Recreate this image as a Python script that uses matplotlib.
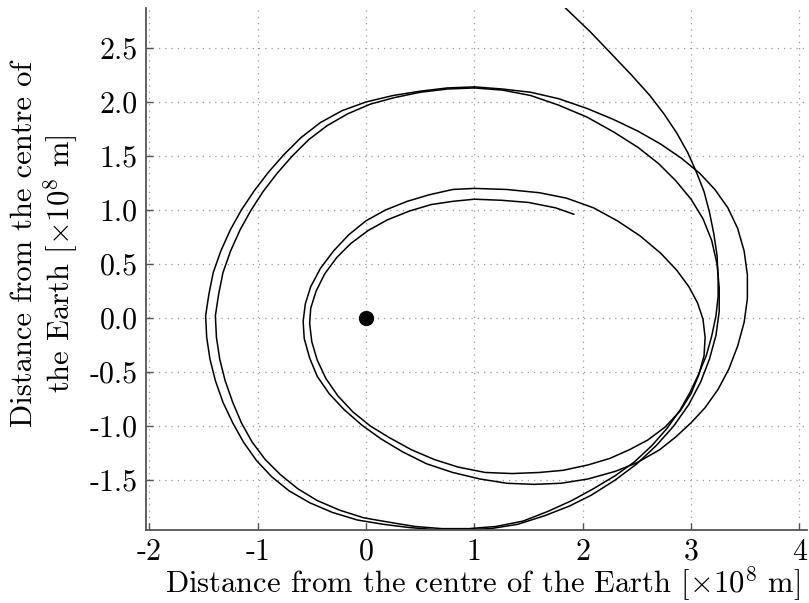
#!/usr/bin/env python3
from __future__ import annotations

import matplotlib

matplotlib.use("Agg")
import matplotlib.pyplot as plt
from matplotlib.ticker import FixedLocator, FormatStrFormatter


# trajectory, in units of 1e8 m (counter-clockwise)
first_orbit_x = [1.92, 1.75, 1.50, 1.25, 1.00, 0.80, 0.60, 0.40, 0.20, 0.02, -0.14, -0.27, -0.38, -0.46,
                 -0.51, -0.52, -0.50, -0.45, -0.37, -0.26, -0.12, 0.04, 0.22, 0.42, 0.63, 0.85, 1.10,
                 1.35, 1.60, 1.82, 2.05, 2.25, 2.43, 2.60, 2.76, 2.90, 3.00, 3.07, 3.12, 3.13, 3.11,
                 3.06, 2.98, 2.87, 2.72, 2.53, 2.32, 2.10, 1.85, 1.60, 1.30, 1.00]
first_orbit_y = [0.96, 1.02, 1.07, 1.09, 1.10, 1.08, 1.05, 0.99, 0.91, 0.81, 0.69, 0.56, 0.41, 0.25,
                 0.09, -0.05, -0.22, -0.39, -0.56, -0.72, -0.87, -1.00, -1.11, -1.22, -1.31, -1.38, -1.43,
                 -1.44, -1.43, -1.41, -1.36, -1.30, -1.22, -1.13, -1.01, -0.86, -0.70, -0.53, -0.35, -0.18, -0.01,
                 0.14, 0.29, 0.44, 0.60, 0.76, 0.90, 1.02, 1.11, 1.16, 1.19, 1.20]

second_orbit_x = [1.00, 0.80, 0.58, 0.38, 0.18, 0.00, -0.16, -0.30, -0.42, -0.51, -0.56, -0.58, -0.57,
                  -0.52, -0.45, -0.34, -0.20, -0.04, 0.14, 0.34, 0.56, 0.80, 1.05, 1.30, 1.55, 1.80,
                  2.05, 2.30, 2.50, 2.71, 2.86, 3.00, 3.13, 3.25, 3.35, 3.43, 3.49, 3.52, 3.52, 3.49,
                  3.43, 3.34, 3.22, 3.08, 2.91, 2.72, 2.51, 2.28, 2.04, 1.78, 1.52, 1.26, 1.00]
second_orbit_y = [1.20, 1.19, 1.14, 1.08, 1.00, 0.90, 0.77, 0.62, 0.46, 0.29, 0.13, -0.03, -0.19,
                  -0.37, -0.54, -0.70, -0.85, -0.99, -1.12, -1.24, -1.35, -1.43, -1.49, -1.53, -1.54, -1.53,
                  -1.49, -1.42, -1.34, -1.22, -1.10, -0.97, -0.83, -0.66, -0.47, -0.26, -0.04, 0.18, 0.40, 0.62,
                  0.83, 1.02, 1.19, 1.34, 1.48, 1.61, 1.73, 1.84, 1.94, 2.03, 2.09, 2.12, 2.14]

third_orbit_x = [1.00, 0.75, 0.50, 0.25, 0.00, -0.22, -0.42, -0.60, -0.76, -0.90, -1.03, -1.15, -1.25,
                 -1.34, -1.41, -1.45, -1.48, -1.47, -1.44, -1.39, -1.32, -1.23, -1.13, -1.01, -0.87,
                 -0.71, -0.52, -0.31, -0.08, 0.16, 0.40, 0.65, 0.90, 1.15, 1.40, 1.65, 1.88, 2.08,
                 2.30, 2.50, 2.68, 2.84, 2.98, 3.09, 3.17, 3.23, 3.26, 3.26, 3.24, 3.19, 3.11, 3.00,
                 2.86, 2.70, 2.51, 2.29, 2.04, 1.78, 1.52, 1.26, 1.00]
third_orbit_y = [2.14, 2.13, 2.10, 2.06, 2.00, 1.92, 1.81, 1.67, 1.51, 1.35, 1.18, 1.00, 0.82,
                 0.62, 0.42, 0.22, 0.02, -0.18, -0.38, -0.58, -0.78, -0.97, -1.15, -1.32, -1.47,
                 -1.60, -1.71, -1.80, -1.87, -1.91, -1.94, -1.96, -1.96, -1.95, -1.91, -1.83, -1.74, -1.64,
                 -1.50, -1.35, -1.18, -1.00, -0.80, -0.59, -0.38, -0.16, 0.06, 0.28, 0.50, 0.72, 0.92, 1.10,
                 1.27, 1.43, 1.58, 1.72, 1.86, 1.97, 2.06, 2.11, 2.13]

escape_x = [1.00, 0.75, 0.50, 0.26, 0.04, -0.17, -0.36, -0.53, -0.68, -0.82, -0.95, -1.06, -1.16,
            -1.25, -1.32, -1.36, -1.39, -1.38, -1.35, -1.30, -1.23, -1.15, -1.05, -0.93, -0.79,
            -0.63, -0.45, -0.24, -0.02, 0.21, 0.45, 0.70, 0.95, 1.20, 1.45, 1.68, 1.90, 2.10,
            2.30, 2.48, 2.64, 2.78, 2.90, 2.99, 3.07, 3.14, 3.19, 3.23, 3.25, 3.25, 3.24, 3.21,
            3.17, 3.12, 3.05, 2.97, 2.87, 2.75, 2.62, 2.45, 2.27, 2.07, 1.82]
escape_y = [2.13, 2.12, 2.09, 2.04, 1.98, 1.89, 1.78, 1.65, 1.50, 1.34, 1.17, 1.00, 0.82,
            0.62, 0.42, 0.22, 0.02, -0.18, -0.38, -0.58, -0.78, -0.97, -1.15, -1.31, -1.45,
            -1.58, -1.69, -1.78, -1.85, -1.89, -1.93, -1.95, -1.95, -1.93, -1.88, -1.79, -1.69, -1.58,
            -1.46, -1.33, -1.18, -1.02, -0.85, -0.69, -0.52, -0.35, -0.17, 0.02, 0.20, 0.38, 0.58, 0.78,
            0.98, 1.17, 1.35, 1.53, 1.71, 1.89, 2.06, 2.25, 2.44, 2.65, 2.89]

earth_x = [0.0]
earth_y = [0.0]

x_ticks = [-2, -1, 0, 1, 2, 3, 4]
y_ticks = [-1.5, -1.0, -0.5, 0.0, 0.5, 1.0, 1.5, 2.0, 2.5]

X_LABEL = r"Distance from the centre of the Earth [$\times 10^8$ m]"
Y_LABEL_LINES = ["Distance from the centre of", r"the Earth [$\times 10^8$ m]"]

FIG_W, FIG_H = 809, 603


def _set_style() -> None:
    plt.rcParams.update(
        {
            "font.family": "serif",
            "font.serif": ["cmr10", "DejaVu Serif"],
            "mathtext.fontset": "cm",
            "axes.unicode_minus": False,
            "axes.formatter.use_mathtext": False,
            "font.size": 21.5,
        }
    )


def _style_axis(ax) -> None:
    ax.spines["top"].set_visible(False)
    ax.spines["right"].set_visible(False)
    for side in ("left", "bottom"):
        ax.spines[side].set_color("#555555")
        ax.spines[side].set_linewidth(1.3)
    ax.tick_params(direction="in", length=5, width=1.0, color="#555555", labelsize=21.5, pad=6)
    ax.grid(True, color="#999999", linestyle=(0, (1, 4)), linewidth=0.9)
    ax.set_axisbelow(True)


def _px(x: float, y: float) -> tuple[float, float]:
    # pixel position (from top-left) to figure fraction
    return x / FIG_W, 1 - y / FIG_H


def main() -> None:
    _set_style()
    fig = plt.figure(figsize=(FIG_W / 100, FIG_H / 100), dpi=100)
    ax = fig.add_axes([0.1805, 0.121, 0.817, 0.8657])

    segments = [
        (first_orbit_x, first_orbit_y),
        (second_orbit_x, second_orbit_y),
        (third_orbit_x, third_orbit_y),
        (escape_x, escape_y),
    ]
    for xs, ys in segments:
        ax.plot(xs, ys, color="black", linewidth=1.1, solid_joinstyle="round", solid_capstyle="round")
    ax.plot(earth_x, earth_y, "o", color="black", markersize=10)

    ax.set_xlim(-2.03, 4.07)
    ax.set_ylim(-1.963, 2.87)
    ax.xaxis.set_major_locator(FixedLocator(x_ticks))
    ax.yaxis.set_major_locator(FixedLocator(y_ticks))
    ax.xaxis.set_major_formatter(FormatStrFormatter("%d"))
    ax.yaxis.set_major_formatter(FormatStrFormatter("%.1f"))
    _style_axis(ax)

    fig.text(*_px(483, 584), X_LABEL, fontsize=22, ha="center", va="center")
    fig.text(*_px(24, 244), Y_LABEL_LINES[0], fontsize=22, rotation=90, ha="center", va="center")
    fig.text(*_px(61, 264), Y_LABEL_LINES[1], fontsize=22, rotation=90, ha="center", va="center")

    fig.savefig("out.png", dpi=100)
    plt.close(fig)


if __name__ == "__main__":
    main()
